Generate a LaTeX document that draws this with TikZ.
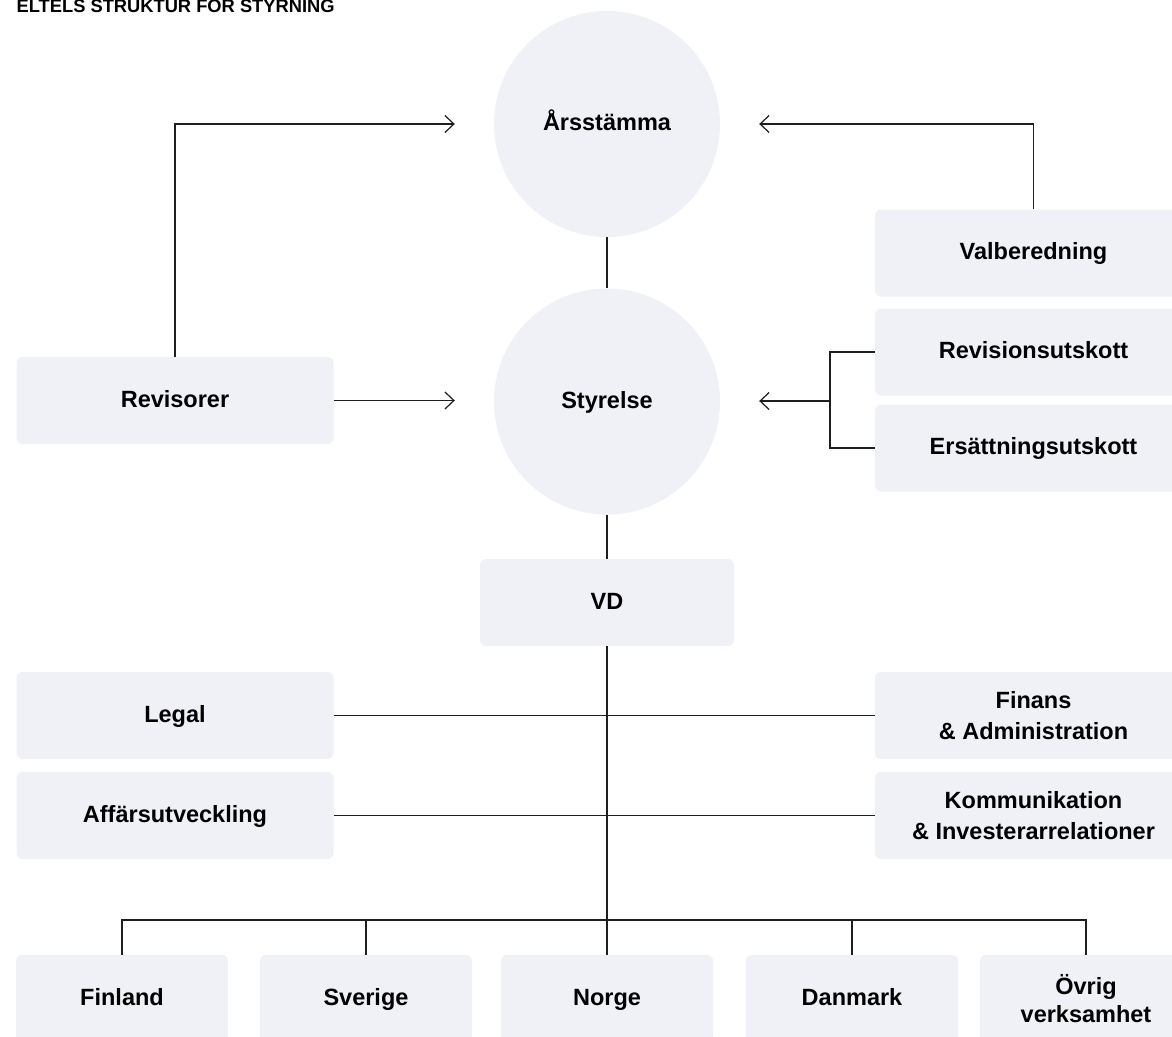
\documentclass[tikz,border=0pt]{standalone}
\usepackage{fontspec}
\setmainfont{Liberation Sans}
\usetikzlibrary{arrows.meta}
\definecolor{boxfill}{HTML}{F0F1F6}
\definecolor{linec}{HTML}{1E1E1E}
\tikzset{
  box/.style={fill=boxfill, rounded corners=6pt, inner sep=0pt, align=center,
    font=\fontsize{23.5}{31}\selectfont\bfseries},
  oneline/.style={text height=18pt, text depth=4.8pt},
  widebox/.style={box, minimum width=317pt, minimum height=87pt},
  smallbox/.style={box, minimum width=212pt, minimum height=87pt},
  roundnode/.style={circle, fill=boxfill, minimum size=226pt, inner sep=0pt,
    oneline, font=\fontsize{23.5}{31}\selectfont\bfseries},
  conn/.style={draw=linec, line width=1.2pt},
  arr/.style={conn, -{Straight Barb[length=9pt, width=17pt, line width=1.2pt]}}
}
\begin{document}
\begin{tikzpicture}[x=1pt,y=-1pt]
\useasboundingbox (0,0) rectangle (1172,1036);
\fill[white] (0,0) rectangle (1172,1036);

\node[anchor=base west, inner sep=0pt, font=\fontsize{18.3}{20}\selectfont\bfseries] (title) at (16.5,12.3) {ELTELS STRUKTUR FÖR STYRNING};

% circles
\node[roundnode] (ars) at (607,124) {Årsstämma};
\node[roundnode] (sty) at (607,401.5) {Styrelse};

% left boxes
\node[widebox, oneline] (rev) at (175,400.5) {Revisorer};
\node[widebox, oneline] (leg) at (175,715.5) {Legal};
\node[widebox, oneline] (aff) at (175,815.5) {Affärsutveckling};

% right boxes
\node[widebox, oneline] (val) at (1033.5,253) {Valberedning};
\node[widebox, oneline] (revu) at (1033.5,352) {Revisionsutskott};
\node[widebox, oneline] (ers) at (1033.5,448) {Ersättningsutskott};
\node[widebox] (fin) at (1033.5,715.5) {Finans\\\& Administration};
\node[widebox] (kom) at (1033.5,815.5) {Kommunikation\\\& Investerarrelationer};

% VD
\node[box, oneline, minimum width=254pt, minimum height=87pt] (vd) at (607,602.5) {VD};

% bottom boxes
\node[smallbox, oneline] (fil) at (122,998.5) {Finland};
\node[smallbox, oneline] (sve) at (366,998.5) {Sverige};
\node[smallbox, oneline] (nor) at (607,998.5) {Norge};
\node[smallbox, oneline] (dan) at (852,998.5) {Danmark};
\node[smallbox, font=\fontsize{23.5}{27.5}\selectfont\bfseries] (ovr) at (1086,998.5) {Övrig\\verksamhet};

% connectors top
\draw[arr] (rev.north) |- ([xshift=-39pt]ars.west);
\draw[arr] (rev.east) -- ([xshift=-39pt]sty.west |- rev.east);
\draw[arr] (val.north) |- ([xshift=39pt]ars.east);
\coordinate (br) at (830,401);
\draw[conn] (revu.west) -| (br) |- (ers.west);
\draw[arr] (br) -- ([xshift=39pt]sty.east |- br);
\draw[conn] (ars.south) -- (sty.north);
\draw[conn] (sty.south) -- (vd.north);

% VD tree
\coordinate (bus) at (607,920);
\draw[conn] (vd.south) -- (bus);
\draw[conn] (leg.east) -- (fin.west);
\draw[conn] (aff.east) -- (kom.west);
\draw[conn] (fil.north) |- (bus) -| (ovr.north);
\draw[conn] (sve.north) -- (sve.north |- bus);
\draw[conn] (nor.north) -- (bus);
\draw[conn] (dan.north) -- (dan.north |- bus);
\end{tikzpicture}
\end{document}
